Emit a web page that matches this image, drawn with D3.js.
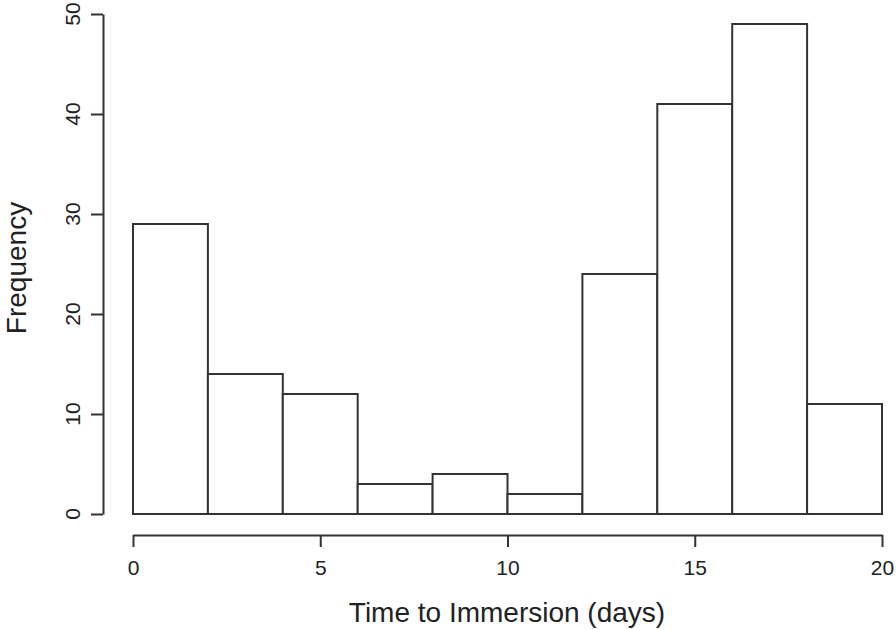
<!DOCTYPE html>
<html>
<head>
<meta charset="utf-8">
<script src="https://cdn.jsdelivr.net/npm/d3@7"></script>
<style>
  body { margin: 0; background: #fff; }
  svg { display: block; font-family: "Liberation Sans", Arial, sans-serif; }
</style>
</head>
<body>
<div class="container"></div>
<script>
// histogram bins (days) and counts
const binStarts = [0, 2, 4, 6, 8, 10, 12, 14, 16, 18];
const binWidth = 2;
const counts = [29, 14, 12, 3, 4, 2, 24, 41, 49, 11];
const xTicks = [0, 5, 10, 15, 20];
const yTicks = [0, 10, 20, 30, 40, 50];
const xLabel = "Time to Immersion (days)";
const yLabel = "Frequency";

const W = 896, H = 630;
const ink = "#333";

const svg = d3
  .select(".container")
  .append("svg")
  .attr("width", W)
  .attr("height", H);

//Scales
const x = d3.scaleLinear().domain([0, 20]).range([133, 882]);
const y = d3.scaleLinear().domain([0, 50]).range([514, 14]);

//Bars
svg
  .append("g")
  .selectAll("rect")
  .data(counts)
  .enter()
  .append("rect")
  .attr("x", (d, i) => x(binStarts[i]))
  .attr("y", d => y(d))
  .attr("width", (d, i) => x(binStarts[i] + binWidth) - x(binStarts[i]))
  .attr("height", d => y(0) - y(d))
  .attr("fill", "#fff")
  .attr("stroke", ink)
  .attr("stroke-width", 2);

//X axis
const xAxis = d3
  .axisBottom(x)
  .tickValues(xTicks)
  .tickSize(12)
  .tickSizeOuter(0)
  .tickPadding(13);
const gx = svg
  .append("g")
  .attr("transform", "translate(0,535)")
  .call(xAxis);
gx.selectAll("path, line").attr("stroke", ink).attr("stroke-width", 2);
gx.selectAll("text")
  .attr("font-size", 21)
  .attr("font-family", "Liberation Sans, Arial, sans-serif")
  .attr("fill", "#222");

//Y axis (labels rotated like base R)
const yAxis = d3
  .axisLeft(y)
  .tickValues(yTicks)
  .tickSize(12)
  .tickSizeOuter(0)
  .tickFormat("");
const gy = svg
  .append("g")
  .attr("transform", "translate(103,0)")
  .call(yAxis);
gy.selectAll("path, line").attr("stroke", ink).attr("stroke-width", 2);

svg
  .append("g")
  .selectAll("text")
  .data(yTicks)
  .enter()
  .append("text")
  .attr("transform", d => `translate(80,${y(d)}) rotate(-90)`)
  .attr("text-anchor", "middle")
  .attr("font-size", 21)
  .attr("fill", "#222")
  .text(d => d);

//Axis titles
svg
  .append("text")
  .attr("x", 507)
  .attr("y", 622)
  .attr("text-anchor", "middle")
  .attr("font-size", 28)
  .attr("fill", "#222")
  .text(xLabel);

svg
  .append("text")
  .attr("transform", "translate(26,268) rotate(-90)")
  .attr("text-anchor", "middle")
  .attr("font-size", 28)
  .attr("fill", "#222")
  .text(yLabel);
</script>
</body>
</html>
